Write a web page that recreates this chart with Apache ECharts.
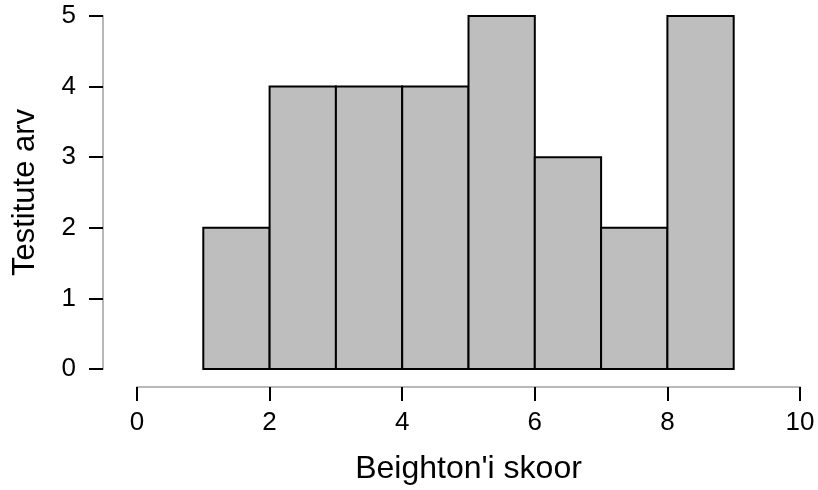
<!DOCTYPE html>
<html>
<head>
<meta charset="utf-8">
<script src="https://cdn.jsdelivr.net/npm/echarts@6/dist/echarts.min.js"></script>
<style>
  html, body { margin: 0; padding: 0; background: #ffffff; }
  #chart { width: 818px; height: 490px; }
</style>
</head>
<body>
<div id="chart"></div>
<script>
// Histogram bins (left edge, right edge) and their counts
const binStart = [1, 2, 3, 4, 5, 6, 7, 8];
const binEnd   = [2, 3, 4, 5, 6, 7, 8, 9];
const counts   = [2, 4, 4, 4, 5, 3, 2, 5];

const xTicks = [0, 2, 4, 6, 8, 10];
const yTicks = [0, 1, 2, 3, 4, 5];

const xTitle = "Beighton'i skoor";
const yTitle = 'Testitute arv';

const bins = binStart.map((s, i) => [s, binEnd[i], counts[i]]);

const FONT = 'Liberation Sans, Arial, Helvetica, sans-serif';

const chart = echarts.init(document.getElementById('chart'), null, { renderer: 'canvas' });

chart.setOption({
  animation: false,
  backgroundColor: '#ffffff',
  grid: { left: 137, right: 18, top: 16, bottom: 119, containLabel: false },
  xAxis: {
    type: 'value',
    min: xTicks[0],
    max: xTicks[xTicks.length - 1],
    interval: xTicks[1] - xTicks[0],
    offset: 18,
    name: xTitle,
    nameLocation: 'middle',
    nameGap: 66,
    nameTextStyle: { fontFamily: FONT, fontSize: 32, color: '#000' },
    axisLine: { show: true, onZero: false, lineStyle: { color: '#b8b8b8', width: 2 } },
    axisTick: { show: true, length: 14, lineStyle: { color: '#000', width: 2 } },
    axisLabel: { margin: 23, fontFamily: FONT, fontSize: 26, color: '#000' },
    splitLine: { show: false }
  },
  yAxis: {
    type: 'value',
    min: yTicks[0],
    max: yTicks[yTicks.length - 1],
    interval: yTicks[1] - yTicks[0],
    offset: 34,
    name: yTitle,
    nameLocation: 'middle',
    nameGap: 62,
    nameRotate: 90,
    nameTextStyle: { fontFamily: FONT, fontSize: 31, color: '#000' },
    axisLine: { show: true, onZero: false, lineStyle: { color: '#b8b8b8', width: 2 } },
    axisTick: { show: true, length: 14, lineStyle: { color: '#000', width: 2 } },
    axisLabel: { margin: 27, fontFamily: FONT, fontSize: 26, color: '#000' },
    splitLine: { show: false }
  },
  series: [{
    type: 'custom',
    data: bins,
    encode: { x: [0, 1], y: 2 },
    renderItem: function (params, api) {
      const p0 = api.coord([api.value(0), 0]);
      const p1 = api.coord([api.value(1), api.value(2)]);
      return {
        type: 'rect',
        shape: { x: p0[0], y: p1[1], width: p1[0] - p0[0], height: p0[1] - p1[1] },
        style: { fill: '#bebebe', stroke: '#000', lineWidth: 2 }
      };
    }
  }]
});
</script>
</body>
</html>
